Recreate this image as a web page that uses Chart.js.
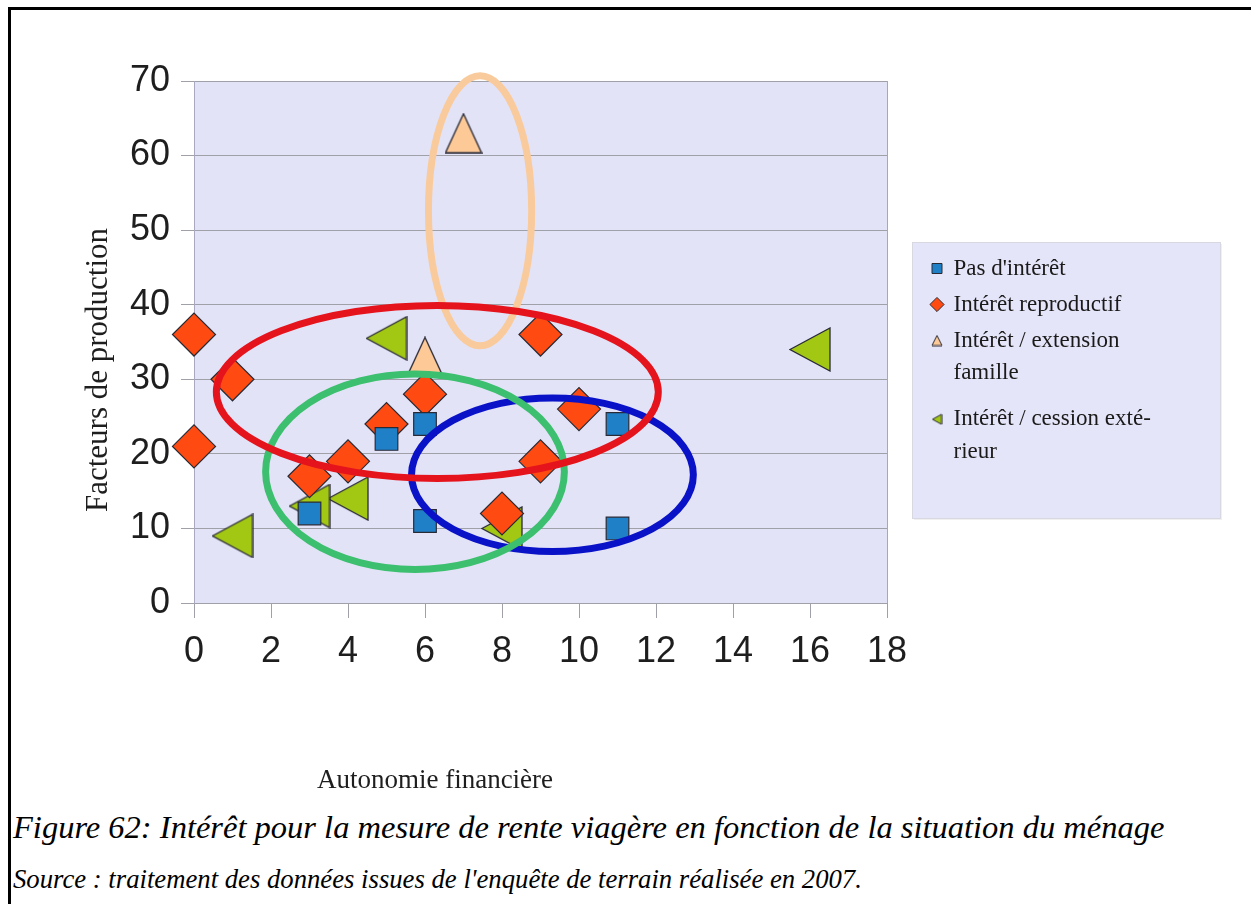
<!DOCTYPE html>
<html>
<head>
<meta charset="utf-8">
<script src="https://cdn.jsdelivr.net/npm/chart.js@4/dist/chart.umd.min.js"></script>
<style>
html,body{margin:0;padding:0;background:#fff;}
body{width:1251px;height:904px;position:relative;overflow:hidden;}
#frame{position:absolute;left:8px;top:7px;right:-5px;bottom:-5px;border-left:3px solid #000;border-top:3px solid #000;}
#wrap{position:absolute;left:0;top:0;width:1251px;height:800px;}
.cap{position:absolute;left:13px;font-family:"Liberation Serif","Times New Roman",serif;font-style:italic;color:#000;white-space:nowrap;line-height:1;}
#fig{top:811px;font-size:32.5px;}
#src{top:866px;font-size:26.7px;}
</style>
</head>
<body>
<div id="frame"></div>
<div id="wrap"><canvas id="c" width="1251" height="800"></canvas></div>
<div class="cap" id="fig">Figure 62: Intérêt pour la mesure de rente viagère en fonction de la situation du ménage</div>
<div class="cap" id="src">Source : traitement des données issues de l'enquête de terrain réalisée en 2007.</div>
<script>
// ---- data ----
const xTickValues = [0, 2, 4, 6, 8, 10, 12, 14, 16, 18];
const yTickValues = [0, 10, 20, 30, 40, 50, 60, 70];
const xTitle = "Autonomie financière";
const yTitle = "Facteurs de production";
const seriesNames = ["Pas d'intérêt", "Intérêt reproductif", "Intérêt / extension famille", "Intérêt / cession extérieur"];
const legendLines = [["Pas d'intérêt"], ["Intérêt reproductif"], ["Intérêt / extension", "famille"], ["Intérêt / cession exté-", "rieur"]];

const pasX = [3, 5, 6, 6, 11, 11];
const pasY = [12, 22, 24, 11, 24, 10];
const reproX = [0, 0, 1, 3, 4, 5, 6, 9, 10, 9, 8];
const reproY = [36, 21, 30, 17, 19, 24, 28, 36, 26, 19, 12];
const familleX = [7, 6];
const familleY = [63, 33];
const cessionX = [5, 16, 1, 4, 3, 8];
const cessionY = [35.5, 34, 9, 14, 13, 10];

// hand-drawn grouping ellipses (in data units)
const groupEllipses = [
  {cx: 7.43, cy: 52.6, rx: 1.34, ry: 18.1, color: '#f9cb9c'},
  {cx: 9.31, cy: 17.2, rx: 3.66, ry: 10.3, color: '#0a12c8'},
  {cx: 5.74, cy: 17.6, rx: 3.88, ry: 13.1, color: '#3cbf6e'},
  {cx: 6.32, cy: 28.3, rx: 5.74, ry: 11.6, color: '#e5141c'}
];

// ---- styling ----
const colBlue = '#1f80c8', colRed = '#ff4a12', colPeach = '#fcc997', colGreen = '#a2c814';
const edge = '#2a2a35';

function triImage(dir, w, h, fill, stroke, lw) {
  const c = document.createElement('canvas');
  c.width = w + 2; c.height = h + 2;
  const g = c.getContext('2d');
  g.beginPath();
  if (dir === 'up') { g.moveTo(1 + w / 2, 1); g.lineTo(1 + w, 1 + h); g.lineTo(1, 1 + h); }
  else { g.moveTo(1, 1 + h / 2); g.lineTo(1 + w, 1); g.lineTo(1 + w, 1 + h); }
  g.closePath();
  g.fillStyle = fill; g.fill();
  g.lineWidth = lw; g.strokeStyle = stroke; g.stroke();
  return c;
}
const upBig = triImage('up', 36, 39, colPeach, edge, 1.3);
const leftBig = triImage('left', 40, 43, colGreen, edge, 1.3);
const upSmall = triImage('up', 10, 10, colPeach, edge, 1);
const leftSmall = triImage('left', 9, 10, colGreen, edge, 1);
const legendStyles = ['rect', 'rectRot', upSmall, leftSmall];

function pts(xs, ys) { return xs.map((x, i) => ({x: x, y: ys[i]})); }

const LEGEND_W = 364, LEGEND_X = 919, LEGEND_Y = 244;

const layoutPlugin = {
  id: 'layoutPlugin',
  beforeUpdate(chart) {
    const lg = chart.legend;
    if (lg && !lg._wrappedFit) {
      const f = lg.fit;
      lg.fit = function () { f.call(this); this.width = LEGEND_W; };
      lg._wrappedFit = true;
    }
  },
  afterLayout(chart) {
    const lg = chart.legend;
    const dx = LEGEND_X - lg.left, dy = LEGEND_Y - lg.top;
    lg.left += dx; lg.right += dx; lg.top += dy; lg.bottom += dy;
  },
  beforeDraw(chart) {
    const {ctx, chartArea: a} = chart;
    ctx.save();
    ctx.fillStyle = '#e3e3f8';
    ctx.fillRect(a.left, a.top, a.right - a.left, a.bottom - a.top);
    ctx.strokeStyle = '#a8a8b0'; ctx.lineWidth = 1;
    ctx.beginPath(); ctx.moveTo(a.right + 0.5, a.top); ctx.lineTo(a.right + 0.5, a.bottom); ctx.stroke();
    const lg = chart.legend;
    const bx = lg.left - 7, by = lg.top - 2;
    ctx.fillStyle = 'rgba(0,0,0,0.06)';
    ctx.fillRect(bx + 2, by + 2, 308, 276);
    ctx.fillStyle = '#e5e5f9';
    ctx.fillRect(bx, by, 308, 276);
    ctx.strokeStyle = '#d8d8e0';
    ctx.strokeRect(bx + 0.5, by + 0.5, 308, 276);
    ctx.restore();
  },
  afterDatasetsDraw(chart) {
    const {ctx, scales: {x, y}} = chart;
    ctx.save();
    ctx.lineWidth = 7;
    groupEllipses.forEach(e => {
      const px = x.getPixelForValue(e.cx), py = y.getPixelForValue(e.cy);
      const rx = Math.abs(x.getPixelForValue(e.cx + e.rx) - px);
      const ry = Math.abs(y.getPixelForValue(e.cy + e.ry) - py);
      ctx.beginPath();
      ctx.ellipse(px, py, rx, ry, 0, 0, Math.PI * 2);
      ctx.strokeStyle = e.color;
      ctx.stroke();
    });
    ctx.restore();
  },
  afterDraw(chart) {
    const {ctx, chartArea: a} = chart;
    ctx.save();
    ctx.fillStyle = '#1e1e1e';
    ctx.textAlign = 'center'; ctx.textBaseline = 'middle';
    ctx.font = '27px "Liberation Serif"';
    ctx.fillText(xTitle, a.left + 241, a.bottom + 178);
    ctx.translate(a.left - 95, (a.top + a.bottom) / 2 + 28);
    ctx.rotate(-Math.PI / 2);
    ctx.font = '31px "Liberation Serif"';
    ctx.fillText(yTitle, 0, 0);
    ctx.restore();
  }
};

new Chart(document.getElementById('c'), {
  type: 'scatter',
  data: {
    datasets: [
      {label: seriesNames[0], data: pts(pasX, pasY), pointStyle: 'rect', pointRadius: 16, pointHoverRadius: 16,
       backgroundColor: colBlue, borderColor: edge, borderWidth: 1.2, clip: false},
      {label: seriesNames[1], data: pts(reproX, reproY), pointStyle: 'rectRot', pointRadius: 21.5, pointHoverRadius: 21.5,
       backgroundColor: colRed, borderColor: edge, borderWidth: 1.2, clip: false},
      {label: seriesNames[2], data: pts(familleX, familleY), pointStyle: upBig,
       backgroundColor: colPeach, borderColor: edge, borderWidth: 1.2, clip: false},
      {label: seriesNames[3], data: pts(cessionX, cessionY), pointStyle: leftBig,
       backgroundColor: colGreen, borderColor: edge, borderWidth: 1.2, clip: false}
    ]
  },
  options: {
    responsive: false,
    animation: false,
    events: [],
    layout: {padding: {left: 0, right: 0, top: 81, bottom: 0}},
    plugins: {
      tooltip: {enabled: false},
      title: {display: false},
      legend: {
        display: true,
        position: 'right',
        align: 'start',
        labels: {
          usePointStyle: true,
          boxWidth: 10,
          boxHeight: 10,
          padding: 13,
          color: '#1a1a1a',
          font: {family: '"Liberation Serif"', size: 23, lineHeight: 1.43},
          generateLabels(chart) {
            return chart.data.datasets.map((ds, i) => ({
              text: legendLines[i].length > 1 ? legendLines[i] : legendLines[i][0],
              fillStyle: ds.backgroundColor,
              strokeStyle: edge,
              lineWidth: 1,
              pointStyle: legendStyles[i],
              rotation: 0,
              hidden: false,
              datasetIndex: i,
              fontColor: '#1a1a1a'
            }));
          }
        }
      }
    },
    scales: {
      x: {
        type: 'linear', position: 'bottom', min: 0, max: 18,
        afterBuildTicks(s) { s.ticks = xTickValues.map(v => ({value: v})); },
        afterFit(s) { s.height = 197; },
        grid: {drawOnChartArea: false, drawTicks: true, tickLength: 15, color: '#a0a0a8', lineWidth: 1},
        border: {display: true, color: '#a0a0a8'},
        ticks: {font: {family: '"Liberation Sans"', size: 36}, color: '#1e1e1e', padding: 12, maxRotation: 0, autoSkip: false},
        title: {display: false}
      },
      y: {
        type: 'linear', position: 'left', min: 0, max: 70,
        afterBuildTicks(s) { s.ticks = yTickValues.map(v => ({value: v})); },
        afterFit(s) { s.width = 194; },
        grid: {drawOnChartArea: true, drawTicks: true, tickLength: 13, color: '#a0a0a8', lineWidth: 1},
        border: {display: true, color: '#a8a8c0'},
        ticks: {font: {family: '"Liberation Sans"', size: 36}, color: '#1e1e1e', padding: 11, autoSkip: false},
        title: {display: false}
      }
    }
  },
  plugins: [layoutPlugin]
});
</script>
</body>
</html>
